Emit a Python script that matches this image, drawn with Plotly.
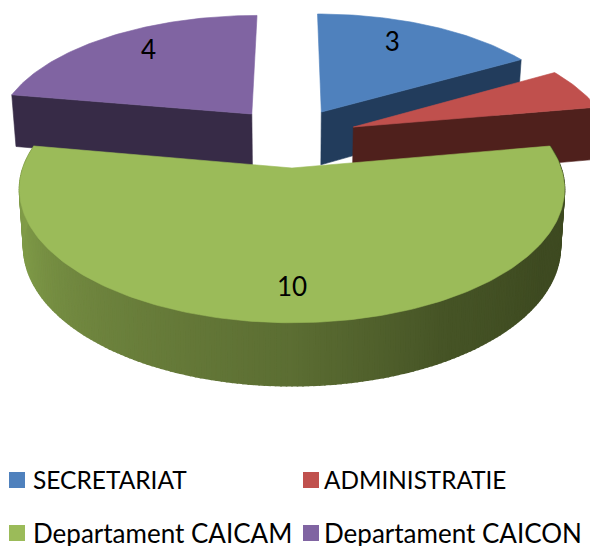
import math
import plotly.graph_objects as go

categories = ["SECRETARIAT", "ADMINISTRATIE", "Departament CAICAM", "Departament CAICON"]
values = [3, 1, 10, 4]

top_colors = ["#4F81BD", "#C0504D", "#9BBB59", "#8064A2"]
side_colors = ["#223C5C", "#4F201C", "#6B8039", "#372B47"]

# view of the tilted pie (pixels)
CX, CY, RX, RY, P = 292.0, 168.0, 269.0, 130.0, 0.16
BASE_SHRINK = 0.985
# explosion offsets of each slice in disk units
explode_u = [0.117, 0.24, 0.0, -0.16]
explode_v = [-0.462, -0.332, 0.0, -0.445]
# where each value label sits in disk units
label_u = [0.442, 1.26, 0.0, -0.624]
label_v = [-1.157, -0.827, 0.793, -1.062]
label_dy = 3
# which straight cut edge of each slice faces the viewer (None: neither)
cut_edge = [-1, -1, None, 0]
draw_order = [3, 0, 1, 2]
# gradient of the big slice's rim, by clockwise angle
rim_angle = [80, 120, 150, 180, 220, 250, 280]
rim_rgb = [(64, 76, 34), (62, 74, 33), (70, 84, 38), (92, 110, 51), (110, 132, 62), (126, 153, 71), (130, 158, 74)]


def project(u, v):
    s = 1.0 / (1.0 - P * v)
    return CX + RX * u * s, CY + RY * v * s


def base(u, v):
    x, y = project(u, v)
    return CX + (x - CX) * BASE_SHRINK, y + 56 + 7 * v


def rim_color(a):
    for i in range(len(rim_angle) - 1):
        if rim_angle[i] <= a <= rim_angle[i + 1]:
            t = (a - rim_angle[i]) / (rim_angle[i + 1] - rim_angle[i])
            c = [rim_rgb[i][k] + t * (rim_rgb[i + 1][k] - rim_rgb[i][k]) for k in range(3)]
            return "rgb(%d,%d,%d)" % tuple(c)
    return "rgb(%d,%d,%d)" % rim_rgb[-1]


def poly(pts, color, lw=0.6):
    return go.Scatter(
        x=[p[0] for p in pts] + [pts[0][0]],
        y=[p[1] for p in pts] + [pts[0][1]],
        mode="lines", fill="toself", fillcolor=color,
        line=dict(color=color, width=lw),
        hoverinfo="skip", showlegend=False,
    )


total = sum(values)
starts = [360.0 * sum(values[:i]) / total for i in range(len(values))]
sweeps = [360.0 * v / total for v in values]

fig = go.Figure()
for i in draw_order:
    a0, sw = starts[i], sweeps[i]
    ou, ov = explode_u[i], explode_v[i]
    n = max(8, int(sw))
    angles = [a0 + sw * k / n for k in range(n + 1)]
    rim = [(ou + math.sin(math.radians(a)), ov - math.cos(math.radians(a))) for a in angles]

    # the outer rim faces the viewer only on the big front slice;
    # split in thin strips so the shading can vary along the arc
    if cut_edge[i] is None:
        for k in range(n):
            u0, v0 = rim[k]
            u1, v1 = rim[k + 1]
            fig.add_trace(poly([project(u0, v0), project(u1, v1), base(u1, v1), base(u0, v0)], rim_color(angles[k]), 1.6))
    else:
        # flat cut side
        eu, ev = rim[cut_edge[i]]
        fig.add_trace(poly([project(ou, ov), project(eu, ev), base(eu, ev), base(ou, ov)], side_colors[i]))
    # top face
    fig.add_trace(poly([project(ou, ov)] + [project(u, v) for u, v in rim], top_colors[i]))

# value labels
pts = [project(u, v) for u, v in zip(label_u, label_v)]
fig.add_trace(go.Scatter(
    x=[p[0] for p in pts], y=[p[1] + label_dy for p in pts],
    mode="text", text=[str(v) for v in values], textposition="middle center",
    textfont=dict(family="Lato", size=26, color="#000000"),
    hoverinfo="skip", showlegend=False, cliponaxis=False,
))

# legend
legend_x = [17, 311, 17, 311]
legend_text_x = [33, 324, 33, 324]
legend_y = [480, 480, 533, 533]
legend_font_sizes = [24.5, 24.3, 26, 26]
fig.add_trace(go.Scatter(
    x=legend_x, y=legend_y, mode="markers",
    marker=dict(symbol="square", size=16, color=top_colors, line=dict(width=0)),
    hoverinfo="skip", showlegend=False,
))
fig.add_trace(go.Scatter(
    x=legend_text_x, y=[y + 3 for y in legend_y], mode="text",
    text=categories, textposition="middle right",
    textfont=dict(family="Lato", size=legend_font_sizes, color="#000000"),
    hoverinfo="skip", showlegend=False, cliponaxis=False,
))

fig.update_layout(
    width=590, height=546, autosize=False,
    margin=dict(l=0, r=0, t=0, b=0),
    paper_bgcolor="white", plot_bgcolor="white",
    xaxis=dict(range=[0, 590], visible=False, fixedrange=True),
    yaxis=dict(range=[546, 0], visible=False, fixedrange=True),
    showlegend=False,
)
fig.write_html(
    "out.html",
    config={"displayModeBar": False},
    post_script="document.body.style.margin='0';document.body.style.overflow='hidden';",
)
